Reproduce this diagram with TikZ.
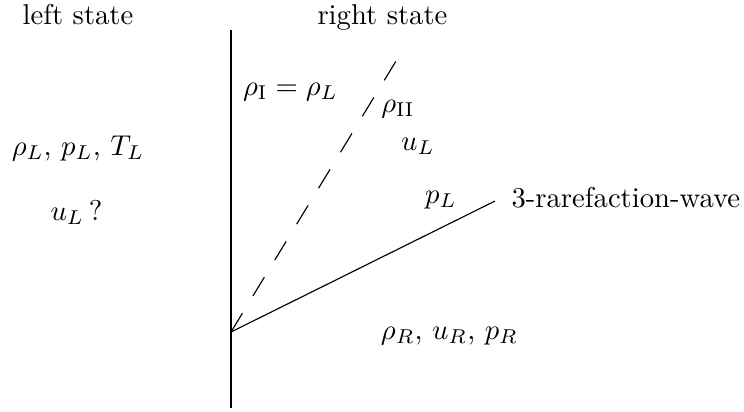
\documentclass[tikz,border=0pt]{standalone}
\usepackage{amsmath}
\usetikzlibrary{positioning}

\begin{document}
\begin{tikzpicture}[
  lbl/.style={inner sep=0pt, anchor=base},
  wall/.style={line width=1pt},
  wave/.style={line width=0.4pt},
  contact/.style={line width=0.4pt, dash pattern=on 7.7pt off 7pt}
]
\useasboundingbox (-2.834,-0.969) rectangle (6.295,4.074);
\coordinate (O) at (0,0);
\coordinate (wtop) at (0,3.706);
\coordinate (wbot) at (0,-0.933);
\coordinate (rw) at (3.239,1.607);
\coordinate (cd) at (2.025,3.325);
\node[lbl] (lhead) at (-1.877,3.779) {left state};
\node[lbl] (rhead) at (1.859,3.779) {right state};
\node[lbl] (lstate) at (-1.877,2.172) {$\rho_L$, $p_L$, $T_L$};
\node[lbl] (lvel) at (-1.896,1.374) {$u_L$\,?};
\node[lbl] (rhoI) at (0.730,2.908) {$\rho_{\mathrm{I}}=\rho_L$};
\node[lbl] (rhoII) at (2.049,2.699) {$\rho_{\mathrm{II}}$};
\node[lbl] (uL) at (2.294,2.233) {$u_L$};
\node[lbl] (pL) at (2.577,1.583) {$p_L$};
\node[lbl, anchor=base west] (rwlbl) at (3.436,1.534) {3-rarefaction-wave};
\node[lbl] (rstate) at (2.681,-0.086) {$\rho_R$, $u_R$, $p_R$};
\draw[wall] (wbot) -- (wtop);
\draw[wave] (O) -- (rw);
\draw[contact] (O) -- (cd);
\end{tikzpicture}
\end{document}
